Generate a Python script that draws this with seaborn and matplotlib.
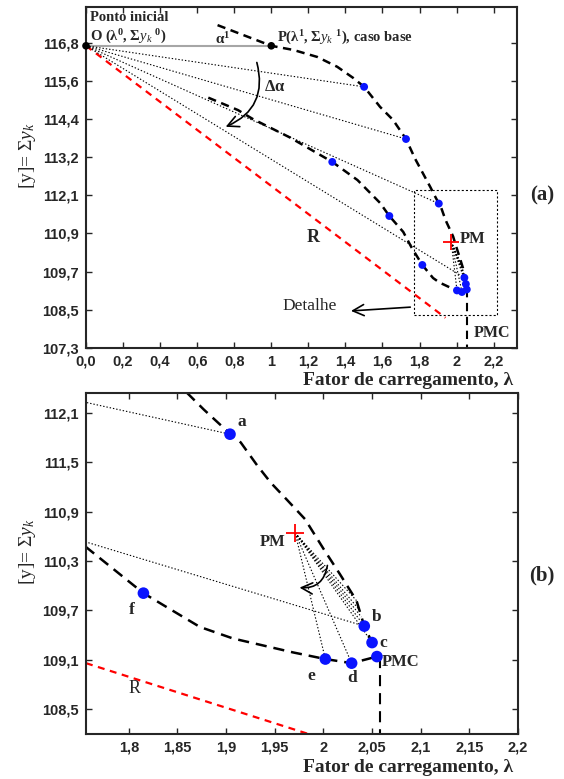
import matplotlib
matplotlib.use("Agg")
import matplotlib.pyplot as plt
import seaborn as sns
import pandas as pd
from matplotlib.patches import FancyArrowPatch, Rectangle

# ---------------- data ----------------
origin = (0.0, 116.8)          # ponto inicial O
base_case = (1.0, 116.8)       # P, caso base
pm_point = (1.971, 110.64)     # PM

# ramo superior da curva
upper_lam = [0.71, 1.0, 1.119, 1.248, 1.356, 1.442, 1.501, 1.587, 1.657, 1.727,
             1.776, 1.860, 1.877, 1.899, 1.915, 1.932, 1.946, 1.962, 1.981, 2.000,
             2.017, 2.034, 2.042, 2.050, 2.055]
upper_sum = [117.45, 116.8, 116.67, 116.45, 116.14, 115.79, 115.51, 114.88, 114.47, 113.87,
             113.25, 112.34, 112.14, 111.90, 111.74, 111.46, 111.25, 111.05, 110.81, 110.45,
             110.14, 109.82, 109.51, 109.31, 109.14]

# ramo inferior da curva
lower_lam = [0.66, 0.82, 0.90, 1.10, 1.329, 1.465, 1.587, 1.637, 1.712, 1.756, 1.815,
             1.839, 1.873, 1.907, 1.969, 2.002, 2.029, 2.055]
lower_sum = [115.17, 114.78, 114.50, 113.92, 113.15, 112.58, 111.86, 111.45, 110.95, 110.47,
             109.91, 109.74, 109.50, 109.36, 109.19, 109.11, 109.06, 109.14]

# PMC vertical
pmc_lam = [2.058, 2.058]
pmc_sum = [109.14, 107.3]

# pontos calculados
pts_lam = [1.501, 1.727, 1.904, 1.329, 1.637, 1.815, 2.002, 2.029, 2.055, 2.050, 2.042]
pts_sum = [115.51, 113.87, 111.84, 113.15, 111.45, 109.91, 109.11, 109.06, 109.14, 109.31, 109.51]

# direcoes a partir de O
rays_o_lam = [1.501, 1.727, 1.904, 2.042]
rays_o_sum = [115.51, 113.87, 111.84, 109.51]

# direcoes a partir de PM
rays_pm_lam = [2.002, 2.029, 2.034, 2.036, 2.039, 2.042, 2.050]
rays_pm_sum = [109.11, 109.06, 109.82, 109.72, 109.62, 109.51, 109.31]

# reta R
r_lam = [0.0, 1.94]
r_sum = [116.8, 108.25]
r_detail_lam = [1.756, 1.99]
r_detail_sum = [109.06, 108.18]

# caixa de detalhe (lambda0, lambda1, y0, y1)
detail_box = (1.77, 2.218, 108.34, 112.27)

# eixos
xticks_a = [0.0, 0.2, 0.4, 0.6, 0.8, 1.0, 1.2, 1.4, 1.6, 1.8, 2.0, 2.2]
xlabels_a = ['0,0', '0,2', '0,4', '0,6', '0,8', '1', '1,2', '1,4', '1,6', '1,8', '2', '2,2']
yticks_a = [107.3, 108.5, 109.7, 110.9, 112.1, 113.3, 114.5, 115.7, 116.9]
ylabels_a = ['107,3', '108,5', '109,7', '110,9', '112,1', '113,2', '114,4', '115,6', '116,8']
xticks_b = [1.8, 1.85, 1.9, 1.95, 2.0, 2.05, 2.1, 2.15, 2.2]
xlabels_b = ['1,8', '1,85', '1,9', '1,95', '2', '2,05', '2,1', '2,15', '2,2']
yticks_b = [108.5, 109.1, 109.7, 110.3, 110.9, 111.5, 112.1]
ylabels_b = ['108,5', '109,1', '109,7', '110,3', '110,9', '111,5', '112,1']

# ---------------- style ----------------
sns.set_style("ticks")
plt.rcParams.update({
    "font.family": ["Liberation Serif", "DejaVu Serif"],
    "mathtext.fontset": "custom",
    "mathtext.rm": "Liberation Serif",
    "mathtext.it": "Liberation Serif:italic",
    "mathtext.bf": "Liberation Serif:bold",
    "lines.scale_dashes": False,
    "axes.linewidth": 1.5,
})

W, H = 564, 779
fig = plt.figure(figsize=(W / 100, H / 100), dpi=100)
fig.patch.set_facecolor("white")


def box(l, t, r, b):
    return [l / W, 1 - b / H, (r - l) / W, (b - t) / H]


ax1 = fig.add_axes(box(86, 7, 517, 348))
ax2 = fig.add_axes(box(86, 393, 518, 734))

DOT = (0, (1.0, 1.4))
TXT = dict(family="Liberation Serif", fontweight="bold")


def seg(ax, xs, ys, **kw):
    sns.lineplot(x=xs, y=ys, sort=False, estimator=None, ax=ax, legend=False, **kw)


def draw_curves(ax, dash, dotlw, msize, r_x, r_y, pm_size):
    seg(ax, r_x, r_y, color="red", lw=1.6, linestyle=(0, (5, 4)))
    for lx, ly in zip(rays_o_lam, rays_o_sum):
        seg(ax, [origin[0], lx], [origin[1], ly], color="black", lw=dotlw, linestyle=DOT)
    for lx, ly in zip(rays_pm_lam, rays_pm_sum):
        seg(ax, [pm_point[0], lx], [pm_point[1], ly], color="black", lw=dotlw, linestyle=DOT)
    seg(ax, upper_lam, upper_sum, color="black", lw=1.8, linestyle=dash)
    seg(ax, lower_lam, lower_sum, color="black", lw=1.8, linestyle=dash)
    seg(ax, pmc_lam, pmc_sum, color="black", lw=1.5, linestyle=dash)
    sns.scatterplot(x=pts_lam, y=pts_sum, color="#0a14ff", s=msize, edgecolor="none",
                    ax=ax, zorder=5, legend=False)
    ax.plot([pm_point[0]], [pm_point[1]], marker="+", color="red", ms=pm_size, mew=1.3,
            zorder=6)


def style_axes(ax, xt, xl, yt, yl, xlim, ylim):
    ax.set_xlim(*xlim)
    ax.set_ylim(*ylim)
    ax.set_xticks(xt)
    ax.set_xticklabels(xl)
    ax.set_yticks(yt)
    ax.set_yticklabels(yl)
    ax.tick_params(direction="in", top=True, right=True, length=4, width=1,
                   labelsize=10.5, pad=5)
    for lab in ax.get_xticklabels() + ax.get_yticklabels():
        lab.set_family("Liberation Sans")
        lab.set_fontweight("bold")
    for s in ax.spines.values():
        s.set_visible(True)
        s.set_linewidth(1.5)
    ax.set_xlabel("")
    ax.set_ylabel("")


# ---------------- panel (a) ----------------
seg(ax1, [origin[0], base_case[0]], [origin[1], base_case[1]], color="#a6a6a6", lw=1.5)
draw_curves(ax1, (0, (6, 4)), 0.8, 32, r_lam, r_sum, 11)
sns.scatterplot(x=[origin[0], base_case[0]], y=[origin[1], base_case[1]], color="black",
                s=30, edgecolor="none", ax=ax1, zorder=6, legend=False, clip_on=False)
bx0, bx1, by0, by1 = detail_box
ax1.add_patch(Rectangle((bx0, by0), bx1 - bx0, by1 - by0, fill=False, lw=0.8,
                        ls=(0, (1.5, 1.5)), color="black"))
style_axes(ax1, xticks_a, xlabels_a, yticks_a, ylabels_a, (0, 2.326), (107.3, 118.02))

ax1.text(0.024, 117.68, "Ponto inicial", fontsize=10.5, va="center", ha="left", **TXT)
ax1.text(0.024, 117.08, r"O ($\mathbf{λ}^{\mathbf{0}}$, $\mathbf{Σ}y_k$ $^{\mathbf{0}}$)",
         fontsize=10.5, va="center", ha="left", **TXT)
ax1.text(0.735, 117.02, r"$\mathbf{α}^{\mathbf{1}}$", fontsize=11, va="center",
         ha="center", **TXT)
ax1.text(1.032, 117.05, r"P($\mathbf{λ}^{\mathbf{1}}$, $\mathbf{Σ}y_k$ $^{\mathbf{1}}$), caso base",
         fontsize=10.5, va="center", ha="left", **TXT)
ax1.text(1.02, 115.51, r"$\mathbf{Δα}$", fontsize=12, va="center", ha="center", **TXT)
ax1.text(1.227, 110.76, "R", fontsize=13, va="center", ha="center", **TXT)
ax1.text(2.089, 110.73, "PM", fontsize=12, va="center", ha="center", **TXT)
ax1.text(2.19, 107.77, "PMC", fontsize=11.5, va="center", ha="center", **TXT)
ax1.text(1.209, 108.62, "Detalhe", fontsize=12.5, va="center", ha="center",
         family="Liberation Serif")
ax1.add_patch(FancyArrowPatch((1.765, 108.59), (1.415, 108.46), arrowstyle="->,head_length=8,head_width=4",
                              color="black", lw=1.2, mutation_scale=1))
ax1.add_patch(FancyArrowPatch((0.918, 116.36), (0.74, 114.22),
                              connectionstyle="arc3,rad=-0.45",
                              arrowstyle="->,head_length=8,head_width=4",
                              color="black", lw=1.2, mutation_scale=1))

# ---------------- panel (b) ----------------
draw_curves(ax2, (0, (8, 5)), 0.8, 70, r_detail_lam, r_detail_sum, 13)
style_axes(ax2, xticks_b, xlabels_b, yticks_b, ylabels_b, (1.756, 2.2), (108.2, 112.34))

for lab, (lx, ly), ha in [("a", (1.916, 111.99), "center"), ("b", (2.055, 109.62), "center"),
                          ("c", (2.062, 109.31), "center"), ("e", (1.988, 108.91), "center"),
                          ("d", (2.030, 108.88), "center"), ("f", (1.803, 109.70), "center")]:
    ax2.text(lx, ly, lab, fontsize=12.5, va="center", ha=ha, **TXT)
ax2.text(2.0595, 109.07, "PMC", fontsize=12, va="center", ha="left", **TXT)
ax2.text(1.948, 110.53, "PM", fontsize=12, va="center", ha="center", **TXT)
ax2.text(1.806, 108.75, "R", fontsize=13, va="center", ha="center", family="Liberation Serif")
ax2.add_patch(FancyArrowPatch((2.0045, 110.28), (1.9726, 109.98),
                              connectionstyle="arc3,rad=-0.5",
                              arrowstyle="->,head_length=8,head_width=4",
                              color="black", lw=1.2, mutation_scale=1))

# ---------------- rotulos ----------------
for yc in (381, 767):
    fig.text(513 / W, 1 - yc / H, "Fator de carregamento, λ", fontsize=14, ha="right",
             va="center", **TXT)
for yc in (156, 552):
    fig.text(27 / W, 1 - yc / H, r"[y]= $\Sigma y_k$", fontsize=14, rotation=90,
             ha="center", va="center", family="Liberation Serif")
fig.text(542 / W, 1 - 195 / H, "(a)", fontsize=15, ha="center", va="center", **TXT)
fig.text(542 / W, 1 - 575 / H, "(b)", fontsize=15, ha="center", va="center", **TXT)

fig.savefig("out.png", dpi=100, facecolor="white")
